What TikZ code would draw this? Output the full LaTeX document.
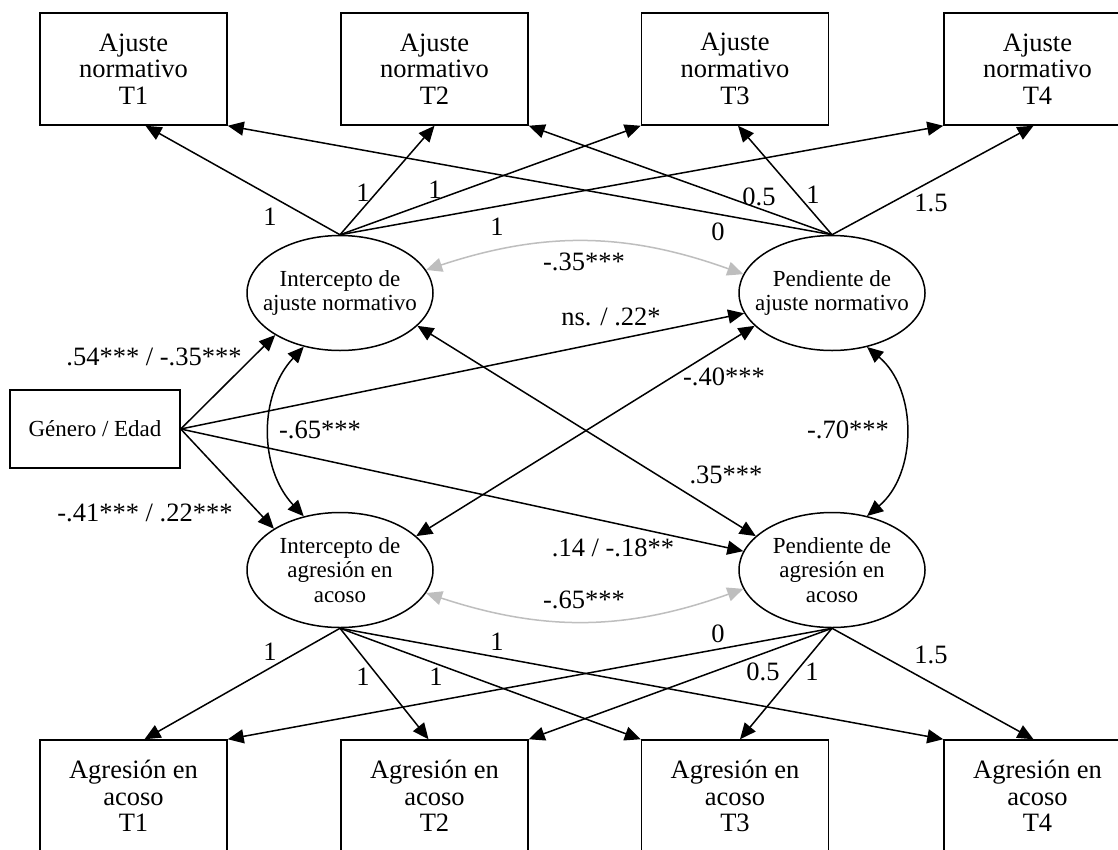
\documentclass[tikz,border=0pt]{standalone}
\usepackage{fontspec}
\setmainfont{Liberation Serif}
\usetikzlibrary{arrows.meta,shapes.geometric}
\begin{document}
\begin{tikzpicture}[x=1pt,y=-1pt,
  obs/.style={draw,line width=1.5pt,minimum width=187pt,minimum height=112pt,inner sep=0pt,align=center,font=\fontsize{26.5}{26.7}\selectfont},
  lat/.style={draw,ellipse,line width=1.5pt,minimum width=186pt,minimum height=115pt,inner sep=0pt},
  lattext/.style={align=center,font=\fontsize{23}{24.8}\selectfont,inner sep=0pt},
  arr/.style={line width=1.5pt,-{Triangle[length=16pt,width=14pt]}},
  dbl/.style={line width=1.5pt,{Triangle[length=16pt,width=14pt]}-{Triangle[length=16pt,width=14pt]}},
  gry/.style={line width=1.5pt,draw={rgb,255:red,190;green,190;blue,190},{Triangle[length=16pt,width=14pt]}-{Triangle[length=16pt,width=14pt]}},
  lbl/.style={inner sep=0pt,font=\fontsize{26.5}{28}\selectfont}]
\path[use as bounding box,fill=white] (0,0) rectangle (1118,849);
% observed boxes
\node[obs] (t1) at (133.5,69) {Ajuste\\normativo\\T1};
\node[obs] (t2) at (434.5,69) {Ajuste\\normativo\\T2};
\node[obs] (t3) at (735,69) {Ajuste\\normativo\\T3};
\node[obs] (t4) at (1037.5,69) {Ajuste\\normativo\\T4};
\node[obs] (b1) at (133.5,796) {Agresión en\\acoso\\T1};
\node[obs] (b2) at (434.5,796) {Agresión en\\acoso\\T2};
\node[obs] (b3) at (735,796) {Agresión en\\acoso\\T3};
\node[obs] (b4) at (1037.5,796) {Agresión en\\acoso\\T4};
\node[draw,line width=1.5pt,minimum width=170pt,minimum height=78pt,inner sep=0pt,font=\fontsize{23}{25}\selectfont] (g) at (95,429) {Género / Edad};
% latent ellipses
\node[lat,label={[lattext]center:{Intercepto de\\ajuste normativo}}] (ia) at (340,293) {};
\node[lat,label={[lattext]center:{Pendiente de\\ajuste normativo}}] (pa) at (832,293) {};
\node[lat,label={[lattext]center:{Intercepto de\\agresión en\\acoso}}] (ig) at (340,570) {};
\node[lat,label={[lattext]center:{Pendiente de\\agresión en\\acoso}}] (pg) at (832,570) {};
% loadings top
\draw[arr] (ia.north) -- ([xshift=12]t1.south);
\draw[arr] (ia.north) -- (t2.south);
\draw[arr] (ia.north) -- (t3.south west);
\draw[arr] (ia.north) -- (t4.south west);
\draw[arr] (pa.north) -- (t1.south east);
\draw[arr] (pa.north) -- (t2.south east);
\draw[arr] (pa.north) -- ([xshift=3]t3.south);
\draw[arr] (pa.north) -- ([xshift=-4]t4.south);
% loadings bottom
\draw[arr] (ig.south) -- ([xshift=11]b1.north);
\draw[arr] (ig.south) -- ([xshift=-6]b2.north);
\draw[arr] (ig.south) -- (b3.north west);
\draw[arr] (ig.south) -- (b4.north west);
\draw[arr] (pg.south) -- (b1.north east);
\draw[arr] (pg.south) -- (b2.north east);
\draw[arr] (pg.south) -- ([xshift=5]b3.north);
\draw[arr] (pg.south) -- ([xshift=-4]b4.north);
% covariate paths
\draw[arr] (g.east) -- (ia.213);
\draw[arr] (g.east) -- (ig.148);
\draw[arr] (g.east) -- (pa.193);
\draw[arr] (g.east) -- (pg.168);
% cross covariances
\draw[dbl] (ia.-23) -- (pg.156);
\draw[dbl] (ig.24) -- (pa.203);
\draw[dbl] (ia.236) to[bend right=43] (ig.124);
\draw[dbl] (pa.303) to[bend left=50] (pg.57);
\draw[gry] (ia.15) to[bend left=19] (pa.168);
\draw[gry] (ig.-15) to[bend right=19] (pg.192);
% labels top
\node[lbl] (lt1) at (270,217) {1};
\node[lbl] (lt2) at (363,193) {1};
\node[lbl] (lt3) at (435,190) {1};
\node[lbl] (lt4) at (497,227) {1};
\node[lbl] (lt5) at (718,232) {0};
\node[lbl] (lt6) at (759,197) {0.5};
\node[lbl] (lt7) at (813,195) {1};
\node[lbl] (lt8) at (931,203) {1.5};
% labels middle
\node[lbl] (lm1) at (584,262) {-.35***};
\node[lbl] (lm2) at (154,357) {.54*** / -.35***};
\node[lbl] (lm3) at (611,317) {ns. / .22*};
\node[lbl] (lm4) at (320,430) {-.65***};
\node[lbl] (lm5) at (724,377) {-.40***};
\node[lbl] (lm6) at (848,430) {-.70***};
\node[lbl] (lm7) at (726,475) {.35***};
\node[lbl] (lm8) at (145,513) {-.41*** / .22***};
\node[lbl] (lm9) at (613,548) {.14 / -.18**};
\node[lbl] (lm10) at (584,600) {-.65***};
% labels bottom
\node[lbl] (lb1) at (270,652) {1};
\node[lbl] (lb2) at (363,677) {1};
\node[lbl] (lb3) at (436,677) {1};
\node[lbl] (lb4) at (497,642) {1};
\node[lbl] (lb5) at (718,634) {0};
\node[lbl] (lb6) at (763,672) {0.5};
\node[lbl] (lb7) at (812,672) {1};
\node[lbl] (lb8) at (931,655) {1.5};
\end{tikzpicture}
\end{document}
